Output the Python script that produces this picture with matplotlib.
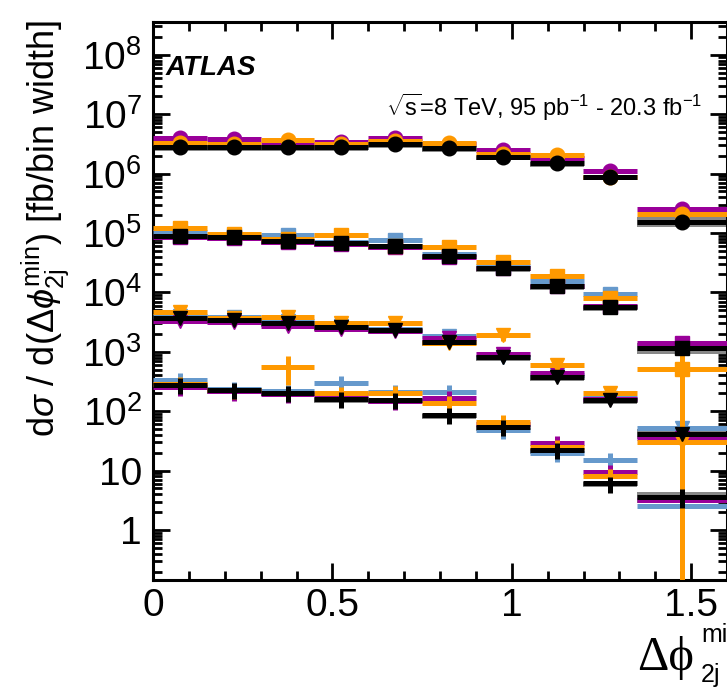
import numpy as np
import matplotlib
matplotlib.use('Agg')
import matplotlib.pyplot as plt
from matplotlib.ticker import LogLocator, MultipleLocator, NullFormatter, FixedLocator, FixedFormatter

plt.rcParams['font.family'] = ['Liberation Sans', 'DejaVu Sans']
plt.rcParams['mathtext.fontset'] = 'custom'
plt.rcParams['mathtext.rm'] = 'Liberation Sans'
plt.rcParams['mathtext.it'] = 'Liberation Sans:italic'
plt.rcParams['mathtext.bf'] = 'Liberation Sans:bold'

nan = np.nan
bin_edges = [0.0, 0.15, 0.3, 0.45, 0.6, 0.75, 0.9, 1.05, 1.2, 1.35, 1.6]

# circles (top distribution)
circ_black = [2.76e6, 2.76e6, 2.76e6, 2.84e6, 3.15e6, 2.67e6, 1.93e6, 1.49e6, 8.9e5, 1.55e5]
circ_orange = [3.3e6, 3.2e6, 3.7e6, 3.2e6, 3.6e6, 3.24e6, 2.1e6, 2.06e6, 8.8e5, 2.09e5]
circ_purple = [3.9e6, 3.8e6, 3.2e6, 3.4e6, 3.9e6, 3.1e6, 2.5e6, 1.8e6, 1.12e6, 2.5e5]
circ_blue = [nan] * 10

# squares
sq_black = [8.9e4, 8.5e4, 7.3e4, 6.7e4, 6.1e4, 4.1e4, 2.54e4, 1.28e4, 5.6e3, 1.15e3]
sq_orange = [1.2e5, 9.5e4, 7.8e4, 9.3e4, 6.0e4, 5.9e4, 3.3e4, 1.89e4, 7.9e3, 507]
sq_purple = [8.7e4, 8.2e4, 7.1e4, 6.5e4, 5.9e4, 4.0e4, 2.6e4, 1.3e4, 5.9e3, 1.39e3]
sq_blue = [1.05e5, 8.9e4, 9.3e4, 7.0e4, 7.6e4, 4.5e4, 2.8e4, 1.57e4, 9.3e3, nan]

# down triangles
tri_black = [3660, 3430, 3000, 2600, 2330, 1480, 828, 381, 155, 42]
tri_orange = [4600, 3700, 3800, 3100, 3100, 1400, 1920, 600, 200, 30]
tri_purple = [3300, 3200, 2750, 2400, 2250, 1700, 920, 436, 160, 36]
tri_blue = [4000, 3900, 3300, 2700, 2400, 1850, 830, 410, 170, 52]

# crosses (no marker)
plus_black = [277, 228, 206, 159, 156, 86, 55, 22, 6.1, 3.6]
plus_orange = [290, 225, 562, 200, 205, 136, 66, 25, 8.1, nan]
plus_purple = [260, 215, 195, 190, 150, 168, 61, 29, 9.6, 3.2]
plus_blue = [335, 240, 215, 302, 213, 213, 48, 20, 15, 2.57]

# relative uncertainties
small_err = [0.05] * 10
plus_err = [0.3, 0.3, 0.3, 0.3, 0.3, 0.3, 0.3, 0.3, 0.3, 0.35]
plus_orange_err = [0.3, 0.3, 0.5, 0.3, 0.3, 0.3, 0.3, 0.3, 0.3, 0.3]
plus_blue_err = [0.3, 0.3, 0.3, 0.28, 0.3, 0.3, 0.3, 0.3, 0.3, 0.4]
sq_orange_err = [0.05, 0.05, 0.05, 0.05, 0.05, 0.05, 0.05, 0.05, 0.05, 1.1]
tri_orange_err = [0.05, 0.05, 0.05, 0.05, 0.05, 0.05, 0.2, 0.05, 0.05, 0.3]
band_lo = [0.86, 0.86, 0.86, 0.86, 0.86, 0.86, 0.86, 0.86, 0.86, 0.8]
band_hi = [1.04, 1.04, 1.04, 1.04, 1.04, 1.04, 1.04, 1.04, 1.04, 1.2]

edges = np.array(bin_edges)
centers = 0.5 * (edges[1:] + edges[:-1])
halfw = 0.5 * (edges[1:] - edges[:-1])

c_black = 'black'
c_orange = '#ff9900'
c_purple = '#990099'
c_blue = '#6699cc'

fig = plt.figure(figsize=(7.27, 6.87), dpi=100)
ax = fig.add_axes([153 / 727, 1 - 580 / 687, (727 - 153) / 727, (580 - 22) / 687])
ax.set_yscale('log')


def draw(vals, color, marker, errs, ms=10.5, z=3):
    y = np.array(vals, dtype=float)
    e = np.array(errs)
    lo = y * np.minimum(e, 0.99999)
    hi = y * e
    fmt = marker if marker else 'none'
    ax.errorbar(centers, y, xerr=halfw, yerr=[lo, hi], fmt=fmt, color=color,
                mfc=color, mec=color, ms=ms, elinewidth=3.6, capsize=0, zorder=z)


def band(vals):
    y = np.array(vals)
    ax.bar(centers, y * (np.array(band_hi) - np.array(band_lo)), bottom=y * np.array(band_lo),
           width=2 * halfw, color='#888888', lw=0, zorder=2)


for blk in (circ_black, sq_black, tri_black, plus_black):
    band(blk)

groups = [
    ('o', circ_blue, circ_purple, circ_orange, circ_black, small_err, small_err, small_err, small_err),
    ('s', sq_blue, sq_purple, sq_orange, sq_black, small_err, small_err, sq_orange_err, small_err),
    ('v', tri_blue, tri_purple, tri_orange, tri_black, small_err, small_err, tri_orange_err, small_err),
    ('', plus_blue, plus_purple, plus_orange, plus_black, plus_blue_err, plus_err, plus_orange_err, plus_err),
]
for m, b, p, o, k, eb, ep, eo, ek in groups:
    draw(b, c_blue, m, eb, z=3)
    draw(p, c_purple, m, ep, z=4)
    draw(o, c_orange, m, eo, z=5)
    draw(k, c_black, m, ek, z=6)

ax.set_xlim(0, 1.6)
ax.set_ylim(0.144, 3.56e8)

ax.xaxis.set_major_locator(MultipleLocator(0.5))
ax.xaxis.set_minor_locator(MultipleLocator(0.1))
ax.xaxis.set_major_formatter(plt.FuncFormatter(lambda v, p: '%g' % v))

ytick_vals = [1, 10, 1e2, 1e3, 1e4, 1e5, 1e6, 1e7, 1e8]
ytick_text = ['1', '10', '$10^{2}$', '$10^{3}$', '$10^{4}$', '$10^{5}$', '$10^{6}$', '$10^{7}$', '$10^{8}$']
ax.yaxis.set_major_locator(FixedLocator(ytick_vals))
ax.yaxis.set_major_formatter(FixedFormatter(ytick_text))
ax.yaxis.set_minor_locator(LogLocator(base=10, subs=np.arange(2, 10), numticks=20))
ax.yaxis.set_minor_formatter(NullFormatter())

ax.tick_params(which='both', direction='in', top=True, right=True, width=2, labelsize=28)
ax.tick_params(which='major', length=12)
ax.tick_params(which='minor', length=6.5)
ax.tick_params(axis='y', pad=8)
ax.tick_params(axis='x', pad=6)
for s in ax.spines.values():
    s.set_linewidth(2.2)

fig.text(166 / 727, 1 - 75 / 687, 'ATLAS', fontsize=20, fontweight='bold', fontstyle='italic')
fig.text(702 / 727, 1 - 116 / 687, r'$\sqrt{\mathrm{s}}$=8 TeV, 95 pb$^{-1}$ - 20.3 fb$^{-1}$',
         fontsize=17, ha='right', va='baseline')

fig.text(45 / 727, 1 - 20 / 687, r'd$\sigma$ / d($\Delta\phi^{\mathrm{min}}_{\mathrm{2j}}$) [fb/bin width]',
         rotation=90, fontsize=26, ha='center', va='top')

fig.text(637 / 727, 1 - 670 / 687, '\u0394\u03d5', fontsize=35, family=['Liberation Serif', 'DejaVu Serif'],
         va='baseline')
fig.text(701 / 727, 1 - 642 / 687, 'min', fontsize=18, va='baseline')
fig.text(701 / 727, 1 - 682 / 687, '2j', fontsize=18, va='baseline')

fig.savefig('out.png', dpi=100)
